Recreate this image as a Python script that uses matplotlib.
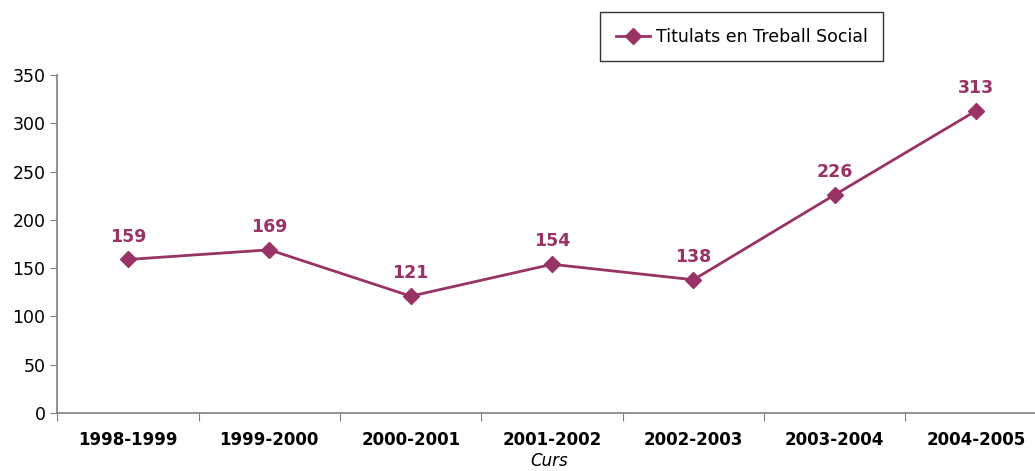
import numpy as np
import matplotlib.pyplot as plt

# Dades: titulats en Treball Social per curs
cursos = ["1998-1999", "1999-2000", "2000-2001", "2001-2002", "2002-2003", "2003-2004", "2004-2005"]
titulats = [159, 169, 121, 154, 138, 226, 313]

color = "#993366"

fig = plt.figure(figsize=(10.35, 4.71), dpi=100)
ax = fig.add_axes([0.0554, 0.1231, 0.956, 0.7176])

x = np.arange(len(cursos))
ax.plot(x, titulats, color=color, linewidth=2, marker="D", markersize=8,
        label="Titulats en Treball Social")

for xi, v in zip(x, titulats):
    ax.annotate(str(v), (xi, v), xytext=(0, 10), textcoords="offset points",
                ha="center", va="bottom", fontsize=12.5, fontweight="bold", color=color)

ax.set_xlim(-0.5, len(cursos) - 0.5)
ax.set_ylim(0, 350)
ax.set_yticks(range(0, 351, 50))
ax.tick_params(axis="y", labelsize=12.5, length=5, color="#808080")
ax.set_xticks(np.arange(-0.5, len(cursos), 1), minor=False)
ax.set_xticklabels([])
ax.set_xticks(x, minor=True)
ax.set_xticklabels(cursos, minor=True, fontsize=12, fontweight="bold")
ax.tick_params(axis="x", which="major", length=6, color="#808080", direction="out")
ax.tick_params(axis="x", which="minor", length=0, pad=13)

for s in ["top", "right"]:
    ax.spines[s].set_visible(False)
for s in ["left", "bottom"]:
    ax.spines[s].set_color("#808080")
    ax.spines[s].set_linewidth(1.2)

fig.text(0.531, 0.002, "Curs", fontsize=12, style="italic", ha="center", va="bottom")

leg = ax.legend(loc="upper left", fontsize=12.5, frameon=True, fancybox=False, edgecolor="black",
                handlelength=2.0, handletextpad=0.3, borderpad=0.9, borderaxespad=0)
leg.set_bbox_to_anchor((600 / 1035, 1 - 12 / 471), transform=fig.transFigure)
leg.get_frame().set_linewidth(1)

fig.savefig("out.png", dpi=100)
